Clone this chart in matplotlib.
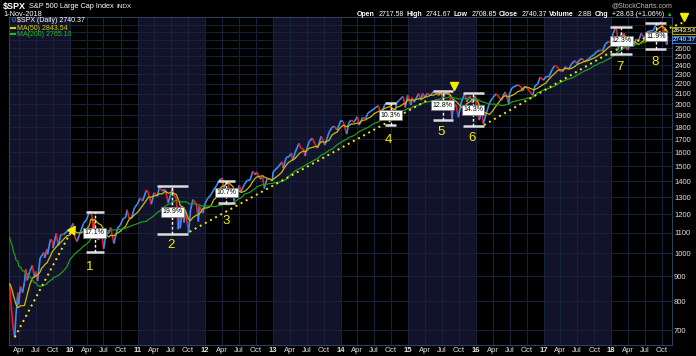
import numpy as np
import pandas as pd
import matplotlib
matplotlib.use("Agg")
import matplotlib.pyplot as plt
import matplotlib.dates as mdates
from matplotlib.collections import LineCollection

plt.rcParams["font.family"] = ["Liberation Sans", "DejaVu Sans"]

#####################################################################
# $SPX daily chart, 2009 - Nov 2018, with the 8 corrections marked
# closes are approximate values (2008 rows only
# feed the moving averages)
#####################################################################
dates = [
    "2008-02-01", "2008-02-15", "2008-02-29", "2008-03-14", "2008-03-31", "2008-04-15", "2008-04-30",
    "2008-05-15", "2008-05-30", "2008-06-13", "2008-06-30", "2008-07-15", "2008-07-31", "2008-08-15",
    "2008-08-29", "2008-09-15", "2008-09-30", "2008-10-10", "2008-10-15", "2008-10-31", "2008-11-14",
    "2008-11-20", "2008-11-28", "2008-12-15", "2008-12-31",
    "2009-01-06", "2009-01-20", "2009-01-30", "2009-02-09", "2009-02-17", "2009-02-23", "2009-03-02",
    "2009-03-09", "2009-03-16", "2009-03-26", "2009-03-30", "2009-04-09", "2009-04-20", "2009-04-30",
    "2009-05-08", "2009-05-15", "2009-05-29", "2009-06-12", "2009-06-23", "2009-06-30", "2009-07-10",
    "2009-07-24", "2009-07-31", "2009-08-14", "2009-08-17", "2009-08-31", "2009-09-02", "2009-09-18",
    "2009-09-30", "2009-10-02", "2009-10-19", "2009-10-30", "2009-11-13", "2009-11-27", "2009-12-15",
    "2009-12-31",
    "2010-01-19", "2010-01-29", "2010-02-08", "2010-02-26", "2010-03-15", "2010-03-31", "2010-04-15",
    "2010-04-23", "2010-04-30", "2010-05-07", "2010-05-13", "2010-05-25", "2010-06-04", "2010-06-18",
    "2010-07-02", "2010-07-15", "2010-07-30", "2010-08-09", "2010-08-26", "2010-09-15", "2010-09-30",
    "2010-10-15", "2010-10-29", "2010-11-05", "2010-11-16", "2010-11-30", "2010-12-15", "2010-12-31",
    "2011-01-14", "2011-01-28", "2011-02-18", "2011-02-28", "2011-03-16", "2011-03-31", "2011-04-18",
    "2011-04-29", "2011-05-13", "2011-05-31", "2011-06-15", "2011-06-30", "2011-07-07", "2011-07-15",
    "2011-07-29", "2011-08-08", "2011-08-15", "2011-08-19", "2011-08-31", "2011-09-09", "2011-09-16",
    "2011-09-30", "2011-10-03", "2011-10-14", "2011-10-27", "2011-11-15", "2011-11-25", "2011-11-30",
    "2011-12-19", "2011-12-30",
    "2012-01-13", "2012-01-31", "2012-02-15", "2012-02-29", "2012-03-15", "2012-04-02", "2012-04-10",
    "2012-04-30", "2012-05-15", "2012-05-31", "2012-06-04", "2012-06-19", "2012-06-25", "2012-07-03",
    "2012-07-12", "2012-07-31", "2012-08-15", "2012-08-31", "2012-09-14", "2012-09-28", "2012-10-05",
    "2012-10-23", "2012-11-06", "2012-11-15", "2012-11-30", "2012-12-14", "2012-12-28",
    "2013-01-02", "2013-01-31", "2013-02-19", "2013-02-25", "2013-03-14", "2013-03-28", "2013-04-11",
    "2013-04-18", "2013-04-30", "2013-05-21", "2013-05-31", "2013-06-14", "2013-06-24", "2013-06-28",
    "2013-07-15", "2013-08-02", "2013-08-15", "2013-08-30", "2013-09-18", "2013-10-08", "2013-10-31",
    "2013-11-15", "2013-11-29", "2013-12-13", "2013-12-31",
    "2014-01-15", "2014-02-03", "2014-02-14", "2014-02-28", "2014-03-14", "2014-04-02", "2014-04-11",
    "2014-04-30", "2014-05-15", "2014-05-30", "2014-06-13", "2014-06-30", "2014-07-24", "2014-08-07",
    "2014-08-29", "2014-09-18", "2014-09-30", "2014-10-15", "2014-10-31", "2014-11-14", "2014-11-28",
    "2014-12-05", "2014-12-16", "2014-12-29",
    "2015-01-15", "2015-01-22", "2015-02-02", "2015-02-27", "2015-03-11", "2015-03-20", "2015-03-31",
    "2015-04-15", "2015-04-30", "2015-05-20", "2015-05-29", "2015-06-15", "2015-06-23", "2015-07-08",
    "2015-07-20", "2015-07-31", "2015-08-14", "2015-08-25", "2015-08-31", "2015-09-16", "2015-09-29",
    "2015-10-15", "2015-11-03", "2015-11-13", "2015-11-30", "2015-12-14", "2015-12-29",
    "2016-01-15", "2016-01-20", "2016-02-01", "2016-02-11", "2016-02-29", "2016-03-15", "2016-03-31",
    "2016-04-20", "2016-05-19", "2016-05-31", "2016-06-08", "2016-06-27", "2016-06-30", "2016-07-15",
    "2016-07-29", "2016-08-15", "2016-08-31", "2016-09-09", "2016-09-22", "2016-09-30", "2016-10-14",
    "2016-11-04", "2016-11-15", "2016-11-30", "2016-12-13", "2016-12-30",
    "2017-01-13", "2017-01-31", "2017-02-15", "2017-03-01", "2017-03-15", "2017-03-27", "2017-04-13",
    "2017-04-28", "2017-05-17", "2017-05-31", "2017-06-19", "2017-06-29", "2017-07-14", "2017-07-26",
    "2017-08-10", "2017-08-31", "2017-09-15", "2017-09-29", "2017-10-13", "2017-10-31", "2017-11-15",
    "2017-11-30", "2017-12-15", "2017-12-29",
    "2018-01-12", "2018-01-26", "2018-02-02", "2018-02-08", "2018-02-15", "2018-02-26", "2018-03-08",
    "2018-03-12", "2018-03-23", "2018-04-02", "2018-04-13", "2018-04-24", "2018-05-03", "2018-05-15",
    "2018-05-29", "2018-06-12", "2018-06-28", "2018-07-13", "2018-07-31", "2018-08-15", "2018-08-31",
    "2018-09-11", "2018-09-20", "2018-10-03", "2018-10-11", "2018-10-17", "2018-10-24", "2018-10-29",
    "2018-11-01",
]
closes = [
    1396, 1349, 1331, 1288, 1323, 1351, 1386,
    1423, 1400, 1360, 1280, 1214, 1267, 1298,
    1283, 1192, 1166, 899, 907, 969, 873,
    752, 896, 868, 903,
    935, 805, 826, 870, 790, 743, 700,
    677, 753, 833, 788, 857, 833, 873,
    929, 882, 919, 946, 895, 919, 879,
    979, 987, 1004, 979, 1021, 995, 1068,
    1057, 1025, 1097, 1036, 1093, 1091, 1108,
    1115,
    1150, 1074, 1057, 1104, 1150, 1169, 1211,
    1217, 1187, 1111, 1157, 1074, 1065, 1117,
    1022, 1096, 1101, 1128, 1047, 1125, 1141,
    1176, 1183, 1225, 1178, 1180, 1236, 1258,
    1293, 1276, 1343, 1327, 1257, 1326, 1305,
    1364, 1338, 1345, 1265, 1321, 1353, 1316,
    1292, 1119, 1204, 1124, 1219, 1154, 1216,
    1131, 1099, 1225, 1285, 1257, 1159, 1247,
    1206, 1258,
    1289, 1312, 1343, 1366, 1402, 1419, 1358,
    1398, 1330, 1310, 1278, 1357, 1313, 1374,
    1334, 1379, 1405, 1407, 1465, 1441, 1461,
    1413, 1428, 1353, 1416, 1413, 1402,
    1462, 1498, 1531, 1488, 1563, 1569, 1593,
    1541, 1598, 1669, 1631, 1626, 1573, 1606,
    1682, 1710, 1661, 1633, 1725, 1656, 1757,
    1798, 1806, 1775, 1848,
    1848, 1742, 1838, 1859, 1841, 1890, 1816,
    1884, 1870, 1924, 1937, 1960, 1988, 1910,
    2003, 2011, 1972, 1862, 2018, 2039, 2067,
    2075, 1972, 2090,
    1993, 2063, 2021, 2105, 2040, 2108, 2068,
    2106, 2086, 2126, 2107, 2084, 2124, 2046,
    2128, 2104, 2092, 1868, 1972, 1996, 1884,
    2023, 2109, 2023, 2080, 2012, 2078,
    1880, 1859, 1940, 1829, 1932, 2016, 2060,
    2102, 2040, 2097, 2119, 2001, 2099, 2162,
    2174, 2190, 2171, 2128, 2177, 2168, 2133,
    2085, 2180, 2199, 2271, 2239,
    2275, 2279, 2350, 2396, 2385, 2342, 2329,
    2384, 2357, 2412, 2453, 2419, 2459, 2478,
    2438, 2472, 2500, 2519, 2553, 2575, 2565,
    2648, 2676, 2674,
    2786, 2873, 2762, 2581, 2731, 2780, 2738,
    2783, 2588, 2582, 2656, 2634, 2630, 2711,
    2690, 2786, 2716, 2801, 2816, 2818, 2902,
    2887, 2931, 2926, 2729, 2809, 2656, 2641,
    2740,
]

# corrections: peak / trough bars, % drop, number under it
corr_start = ["2010-03-27", "2011-04-15", "2012-03-09", "2014-08-28", "2015-05-15", "2015-10-24", "2017-12-26", "2018-07-02"]
corr_end   = ["2010-07-02", "2011-09-29", "2012-06-09", "2014-10-27", "2015-08-30", "2016-02-14", "2018-04-23", "2018-10-23"]
corr_mid   = ["2010-05-15", "2011-07-08", "2012-04-24", "2014-09-28", "2015-07-07", "2015-12-17", "2018-02-23", "2018-08-31"]
corr_high  = [1210, 1368, 1402, 2016, 2132, 2105, 2871, 2925]
corr_low   = [1005, 1093, 1266, 1815, 1860, 1812, 2525, 2584]
corr_pct   = ["17.1%", "19.9%", "10.7%", "10.3%", "12.8%", "14.3%", "12.3%", "11.9%"]
corr_pct_y = [1101, 1214, 1327, 1903, 1992, 1949, 2687, 2743]
num_text   = ["1", "2", "3", "4", "5", "6", "7", "8"]
num_dates  = ["2010-04-18", "2011-06-29", "2012-04-21", "2014-09-18", "2015-06-26", "2015-12-12", "2018-02-16", "2018-08-28"]
num_vals   = [939, 1040, 1164, 1693, 1761, 1708, 2384, 2441]

# dotted yellow support lines
trend_a_dates = ["2009-03-09", "2010-01-11"]
trend_a_vals  = [677, 1115]
trend_b_dates = ["2011-10-09", "2015-04-15"]
trend_b_vals  = [1106, 2040]
trend_c_dates = ["2016-02-14", "2018-01-01", "2019-01-31"]
trend_c_vals  = [1817, 2554, 2936]

ytick_vals = [700, 800, 900, 1000, 1100, 1200, 1300, 1400, 1500, 1600, 1700, 1800, 1900, 2000,
              2100, 2200, 2300, 2400, 2500, 2600]

W, H = 696, 356
def fx(x):
    return x / W
def fy(y):
    return 1 - y / H

s = pd.Series(closes, index=pd.to_datetime(dates), dtype=float)
ma50 = s.rolling("73D").mean()
ma200 = s.rolling("290D").mean()

fig = plt.figure(figsize=(W / 100, H / 100), dpi=100, facecolor="black")
ax = fig.add_axes([fx(9), fy(345), (672 - 9) / W, (345 - 17) / H])
ax.set_facecolor("black")
ax.set_yscale("log")
x0 = mdates.date2num(pd.Timestamp("2009-02-06"))
x1 = mdates.date2num(pd.Timestamp("2018-11-25"))
ax.set_xlim(x0, x1)
ax.set_ylim(653, 3004)

# alternating year shading
for yr in [2009, 2011, 2013, 2015, 2017]:
    ax.axvspan(mdates.date2num(pd.Timestamp(f"{yr}-01-01")), mdates.date2num(pd.Timestamp(f"{yr + 1}-01-01")),
               color="#12122a", zorder=0, lw=0)

# grid
gridc = "#15243c"
for v in range(700, 3001, 100):
    ax.axhline(v, color=gridc, lw=0.7, zorder=1)
xt, xl = [], []
for yr in range(2009, 2019):
    for m, lab in [(1, str(yr)[2:]), (4, "Apr"), (7, "Jul"), (10, "Oct")]:
        d = mdates.date2num(pd.Timestamp(f"{yr}-{m:02d}-01"))
        if x0 < d < x1:
            xt.append(d)
            xl.append(lab)
            ax.axvline(d, color=gridc, lw=0.7, zorder=1)

# price line, blue up / red down
xd = mdates.date2num(s.index)
pts = np.column_stack([xd, s.values])
segs = np.stack([pts[:-1], pts[1:]], axis=1)
cols = ["#3f8cf5" if b >= a else "#f21c1c" for a, b in zip(s.values[:-1], s.values[1:])]
ax.add_collection(LineCollection(segs, colors=cols, linewidths=1.2, zorder=4))

ax.plot(xd, ma50.values, color="#c9bd00", lw=0.9, zorder=5)
ax.plot(xd, ma200.values, color="#1f9a1f", lw=0.9, zorder=5)

# support lines
yel = "#f2ee00"
ax.plot(mdates.date2num(pd.to_datetime(trend_a_dates)), trend_a_vals, color=yel, lw=1.4, ls=(0, (1, 2)), zorder=6)
ax.plot(mdates.date2num(pd.to_datetime(trend_b_dates)), trend_b_vals, color=yel, lw=1.4, ls=(0, (1, 2)), zorder=6)
ax.plot(mdates.date2num(pd.to_datetime(trend_c_dates)), trend_c_vals, color=yel, lw=1.4, ls=(0, (1, 2)), zorder=6,
        clip_on=False)
ax.plot(mdates.date2num(pd.Timestamp(trend_a_dates[-1])), trend_a_vals[-1], marker=(3, 0, -35), ms=7,
        color=yel, zorder=7)
ax.plot(mdates.date2num(pd.Timestamp("2015-09-05")), 2179, marker="v", ms=6, color=yel, zorder=7)
ax.plot(mdates.date2num(pd.Timestamp("2019-01-31")), 3010, marker="v", ms=6, color=yel, zorder=7, clip_on=False)

# correction markers
for i in range(len(corr_pct)):
    a = mdates.date2num(pd.Timestamp(corr_start[i]))
    b = mdates.date2num(pd.Timestamp(corr_end[i]))
    c = mdates.date2num(pd.Timestamp(corr_mid[i]))
    ax.plot([a, b], [corr_high[i]] * 2, color="#dcdcdc", lw=1.8, zorder=8, solid_capstyle="butt")
    ax.plot([a, b], [corr_low[i]] * 2, color="#dcdcdc", lw=1.8, zorder=8, solid_capstyle="butt")
    ax.plot([c, c], [corr_low[i], corr_high[i]], color="white", lw=1.0, ls=(0, (2, 1.5)), zorder=8)
    ax.text(c, corr_pct_y[i], corr_pct[i], fontsize=5, color="black", ha="center", va="center", zorder=9,
            bbox=dict(boxstyle="square,pad=0.2", fc="white", ec="#777777", lw=0.5))
    ax.text(mdates.date2num(pd.Timestamp(num_dates[i])), num_vals[i], num_text[i], fontsize=9.5, color=yel,
            ha="center", va="center", zorder=9)

# axes / ticks
ax.set_xticks(xt)
ax.set_xticklabels(xl)
for t in ax.get_xticklabels():
    t.set_fontsize(5.5)
    t.set_color("#e0e0e0")
    if t.get_text().isdigit():
        t.set_fontweight("bold")
ax.tick_params(axis="x", length=0, pad=1.5)
ax.yaxis.tick_right()
ax.set_yticks(ytick_vals)
ax.set_yticklabels([str(v) for v in ytick_vals])
ax.yaxis.set_minor_locator(matplotlib.ticker.NullLocator())
ax.tick_params(axis="y", which="both", length=0, pad=1.5, labelsize=5.5, labelcolor="#e0e0e0")
for sp in ax.spines.values():
    sp.set_color("#2d4060")
    sp.set_linewidth(0.8)

# price boxes on the right axis
fig.text(fx(673), fy(30.5), "2843.54", fontsize=4.6, color="white", va="center",
         bbox=dict(boxstyle="square,pad=0.1", fc="#1a1a00", ec="#c9bd00", lw=0.6))
fig.text(fx(673), fy(39.5), "2740.37", fontsize=4.6, color="white", va="center",
         bbox=dict(boxstyle="square,pad=0.1", fc="#001433", ec="#3f8cf5", lw=0.6))

rend = fig.canvas.get_renderer()

# header
fig.text(fx(3), fy(6), "$SPX", fontsize=6.5, fontweight="bold", color="white", va="center")
ttl = fig.text(fx(29), fy(6), "S&P 500 Large Cap Index", fontsize=5.3, color="white", va="center")
tw = ttl.get_window_extent(renderer=rend).width
fig.text(fx(29 + tw + 3), fy(6), "INDX", fontsize=4.6, color="white", va="center")
fig.text(fx(3), fy(14), "1-Nov-2018", fontsize=5.3, color="white", va="center")
fig.text(fx(672), fy(5.5), "@StockCharts.com", fontsize=5, color="#bbbbbb", va="center", ha="right")

# quote line, laid out right to left so it ends at the plot edge
hdr = [("Open", True), ("2717.58", False), ("High", True), ("2741.67", False),
       ("Low", True), ("2708.85", False), ("Close", True), ("2740.37", False),
       ("Volume", True), ("2.8B", False), ("Chg", True), ("+28.63 (+1.06%)", False)]
xpos = 672
tri = fig.text(fx(xpos), fy(14), "\u25b2", fontsize=4, color="#22cc22", va="center", ha="right")
xpos -= tri.get_window_extent(renderer=rend).width + 2
for t, b in reversed(hdr):
    tx = fig.text(fx(xpos), fy(14), t, fontsize=5, color="white", va="center", ha="right",
                  fontweight="bold" if b else "normal")
    w = tx.get_window_extent(renderer=rend).width
    xpos -= w + (4 if not b else 2)

# legend
fig.text(fx(11), fy(21), "\u028b", fontsize=5.5, color="#3f8cf5", va="center")
fig.text(fx(17), fy(21), "$SPX (Daily) 2740.37", fontsize=5, color="white", va="center")
fig.add_artist(plt.Line2D([fx(11), fx(15)], [fy(28)] * 2, color="#d8d000", lw=1.5))
fig.text(fx(17), fy(28), "MA(50) 2843.54", fontsize=5, color="#d8d000", va="center")
fig.add_artist(plt.Line2D([fx(11), fx(15)], [fy(34)] * 2, color="#22bb22", lw=1.5))
fig.text(fx(17), fy(34), "MA(200) 2765.10", fontsize=5, color="#22bb22", va="center")

plt.savefig("out.png", dpi=100, facecolor="black")
